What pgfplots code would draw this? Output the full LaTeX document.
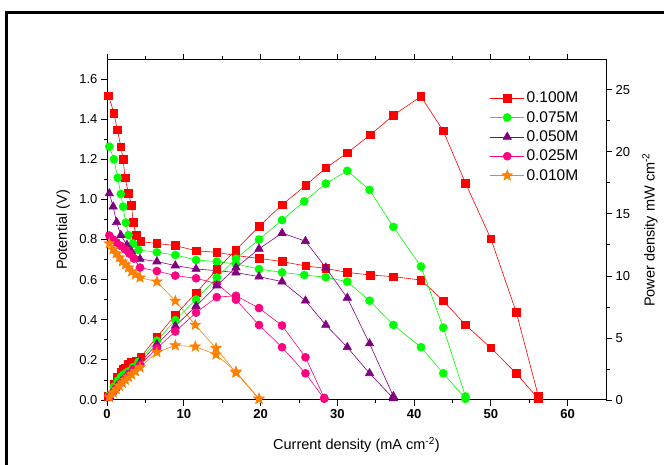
\documentclass[border=0pt]{standalone}
\usepackage{pgfplots}
\pgfplotsset{compat=1.18}
\usepackage{pgfplotstable}
\usepackage{fontspec}
\setmainfont{Liberation Sans}
\definecolor{cred}{RGB}{255,0,0}
\definecolor{cgreen}{RGB}{0,255,0}
\definecolor{cpurple}{RGB}{128,0,128}
\definecolor{cpink}{RGB}{255,0,128}
\definecolor{corange}{RGB}{255,128,0}

\pgfdeclareplotmark{fstar}{%
  \pgfpathmoveto{\pgfpointpolar{90}{\pgfplotmarksize}}%
  \pgfpathlineto{\pgfpointpolar{126}{0.42\pgfplotmarksize}}%
  \pgfpathlineto{\pgfpointpolar{162}{\pgfplotmarksize}}%
  \pgfpathlineto{\pgfpointpolar{198}{0.42\pgfplotmarksize}}%
  \pgfpathlineto{\pgfpointpolar{234}{\pgfplotmarksize}}%
  \pgfpathlineto{\pgfpointpolar{270}{0.42\pgfplotmarksize}}%
  \pgfpathlineto{\pgfpointpolar{306}{\pgfplotmarksize}}%
  \pgfpathlineto{\pgfpointpolar{342}{0.42\pgfplotmarksize}}%
  \pgfpathlineto{\pgfpointpolar{18}{\pgfplotmarksize}}%
  \pgfpathlineto{\pgfpointpolar{54}{0.42\pgfplotmarksize}}%
  \pgfpathclose
  \pgfusepathqfillstroke}

\pgfplotstableread{
I V P
0.2 1.517 0.30
0.9 1.43 1.29
1.35 1.346 1.82
1.8 1.263 2.27
2.1 1.20 2.52
2.35 1.108 2.60
2.8 1.03 2.88
3.2 0.97 3.05
3.4 0.886 3.08
3.8 0.82 3.12
4.4 0.79 3.48
6.5 0.78 5.07
8.9 0.77 6.85
11.6 0.744 8.63
14.3 0.736 10.52
16.8 0.72 12.10
19.8 0.706 13.98
22.8 0.69 15.73
25.9 0.668 17.30
28.5 0.656 18.70
31.3 0.636 19.91
34.3 0.623 21.37
37.3 0.615 22.94
40.9 0.598 24.46
43.8 0.495 21.68
46.7 0.374 17.47
50.0 0.26 13.00
53.3 0.133 7.09
56.2 0.005 0.28
}\tred

\pgfplotstableread{
I V P
0.3 1.263 0.38
0.9 1.20 1.08
1.4 1.108 1.55
1.8 1.027 1.85
2.1 0.964 2.02
2.45 0.884 2.17
2.8 0.822 2.30
3.4 0.78 2.65
4.1 0.748 3.07
6.5 0.736 4.78
8.9 0.723 6.43
11.6 0.698 8.10
14.3 0.69 9.87
16.8 0.678 11.39
19.8 0.653 12.93
22.8 0.636 14.50
25.7 0.623 16.01
28.5 0.612 17.44
31.3 0.59 18.47
34.2 0.495 16.93
37.3 0.374 13.95
40.9 0.263 10.76
43.8 0.133 5.83
46.7 0.006 0.28
}\tgreen

\pgfplotstableread{
I V P
0.3 1.03 0.31
0.8 0.964 0.77
1.25 0.886 1.11
1.8 0.822 1.48
2.6 0.773 2.01
3.2 0.74 2.37
4.3 0.703 3.02
6.5 0.69 4.49
8.9 0.67 5.96
11.6 0.653 7.57
14.3 0.645 9.22
16.8 0.635 10.67
19.8 0.615 12.18
22.8 0.59 13.45
25.85 0.495 12.80
28.5 0.374 10.66
31.3 0.263 8.23
34.2 0.133 4.55
37.3 0.008 0.30
}\tpurple

\pgfplotstableread{
I V P
0.3 0.82 0.25
0.8 0.80 0.64
1.25 0.785 0.98
1.8 0.768 1.38
2.35 0.75 1.76
2.9 0.73 2.12
3.5 0.705 2.47
4.3 0.66 2.84
6.5 0.643 4.18
8.9 0.62 5.52
11.6 0.607 7.04
14.3 0.58 8.29
16.8 0.50 8.40
19.8 0.374 7.41
22.8 0.263 6.00
25.85 0.133 3.44
28.3 0.006 0.17
}\tpink

\pgfplotstableread{
I V P
0.3 0.78 0.23
0.8 0.75 0.60
1.2 0.73 0.88
1.6 0.71 1.14
2.0 0.69 1.38
2.4 0.675 1.62
2.8 0.66 1.85
3.2 0.64 2.05
3.7 0.625 2.31
4.3 0.61 2.62
6.5 0.59 3.84
8.9 0.494 4.40
11.5 0.374 4.30
14.2 0.258 3.66
16.8 0.136 2.28
19.8 0.005 0.10
}\torange

\pgfplotsset{
  mystyle/.style={
    scale only axis, width=499pt, height=340pt,
    at={(107pt,65pt)}, anchor=south west,
    xmin=0, xmax=65,
    axis line style={line width=1pt},
    tick style={line width=0.8pt, black},
    tick align=outside,
    major tick length=6pt, minor tick length=3.5pt,
    /pgf/number format/assume math mode=true,
    ticklabel style={font=\fontsize{13}{13}\selectfont},
    label style={font=\fontsize{14.5}{15}\selectfont},
  },
  ser/.style={color=#1, line width=0.6pt, mark options={solid, fill=#1, draw=#1}},
}

\begin{document}
\begin{tikzpicture}
\useasboundingbox (0pt,0pt) rectangle (664pt,465pt);
\draw[line width=3pt, line cap=rect] (6pt,-5pt) -- (6pt,452pt) -- (670pt,452pt);
\begin{axis}[mystyle,
  ymin=0, ymax=1.695,
  xtick={0,10,20,30,40,50,60}, minor x tick num=1, xtick pos=both,
  xticklabel style={font=\bfseries\fontsize{13}{13}\selectfont},
  ytick={0,0.2,0.4,0.6,0.8,1.0,1.2,1.4,1.6}, minor y tick num=1, ytick pos=left,
  yticklabel style={/pgf/number format/.cd, fixed, fixed zerofill, precision=1},
  xlabel={Current density (mA cm\textsuperscript{-2})},
  ylabel={Potential (V)},
  xlabel style={at={(axis description cs:0.5,-0.132)}, anchor=center},
  ylabel style={at={(axis description cs:-0.088,0.5)}, anchor=center, rotate=0},
  legend style={at={(rel axis cs:0.765,0.915)}, anchor=north west, draw=none, fill=none,
    font=\fontsize{15.5}{17}\selectfont, row sep=3pt, inner sep=1pt},
  legend cell align=left,
  legend image code/.code={\draw[mark repeat=2,mark phase=2] plot coordinates {(0pt,0pt) (17pt,0pt) (34pt,0pt)};},
]
\addplot[ser=cred, mark=square*, mark size=3.8pt] table[x=I,y=V] {\tred};
\addlegendentry{0.100M}
\addplot[ser=cgreen, mark=*, mark size=4pt] table[x=I,y=V] {\tgreen};
\addlegendentry{0.075M}
\addplot[ser=cpurple, mark=triangle*, mark size=4.8pt] table[x=I,y=V] {\tpurple};
\addlegendentry{0.050M}
\addplot[ser=cpink, mark=*, mark size=4pt] table[x=I,y=V] {\tpink};
\addlegendentry{0.025M}
\addplot[ser=corange, mark=fstar, mark size=5.5pt] table[x=I,y=V] {\torange};
\addlegendentry{0.010M}
\end{axis}
\begin{axis}[mystyle,
  axis x line=none, axis y line*=right,
  ymin=0, ymax=27.4,
  ytick={0,5,10,15,20,25}, minor y tick num=1,
  ylabel={Power density mW cm\textsuperscript{-2}},
  ylabel style={at={(axis description cs:1.088,0.5)}, anchor=center, rotate=0},
]
\addplot[ser=cred, mark=square*, mark size=3.8pt] table[x=I,y=P] {\tred};
\addplot[ser=cgreen, mark=*, mark size=4pt] table[x=I,y=P] {\tgreen};
\addplot[ser=cpurple, mark=triangle*, mark size=4.8pt] table[x=I,y=P] {\tpurple};
\addplot[ser=cpink, mark=*, mark size=4pt] table[x=I,y=P] {\tpink};
\addplot[ser=corange, mark=fstar, mark size=5.5pt] table[x=I,y=P] {\torange};
\end{axis}
\end{tikzpicture}
\end{document}
